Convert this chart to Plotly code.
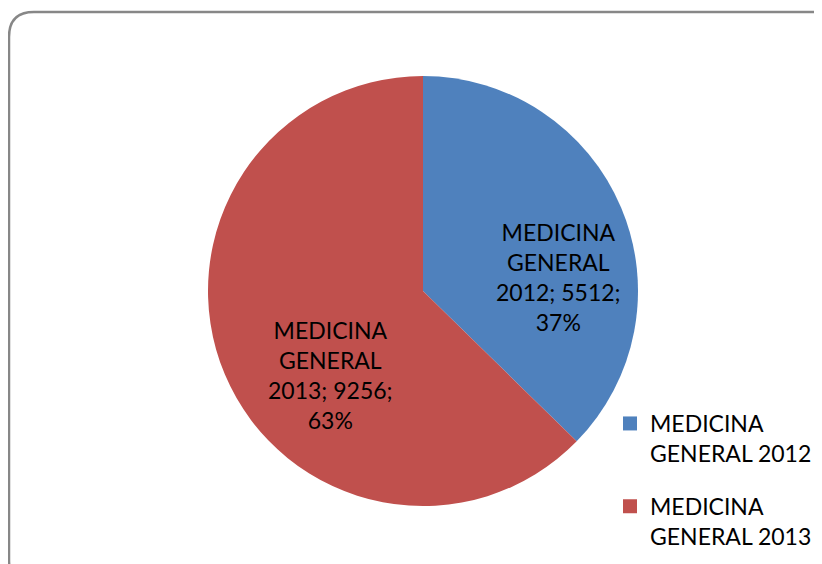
"""Pie chart: medicina general 2012 vs 2013."""
import plotly.graph_objects as go

# data
LABELS = ["MEDICINA GENERAL 2012", "MEDICINA GENERAL 2013"]
LEGEND_NAMES = ["MEDICINA<br>GENERAL 2012", "MEDICINA<br>GENERAL 2013"]
SLICE_TEXT = ["MEDICINA<br>GENERAL<br>2012; 5512;<br>37%", "MEDICINA<br>GENERAL<br>2013; 9256;<br>63%"]
VALUES = [5512, 9256]

BLUE = "#4f81bd"
RED = "#c0504d"
COLORS = [BLUE, RED]
INK = "#000000"
BORDER = "#878787"
FONT = "Lato, 'Open Sans', sans-serif"

# page body has an 8px margin, so the figure is drawn 8px smaller than the window
OFF = 8
W, H = 822 - OFF, 564 - OFF


def px(x):
    return (x - OFF) / W


def py(y):
    return 1 - (y - OFF) / H


fig = go.Figure()
fig.add_trace(go.Pie(
    labels=LABELS, values=VALUES,
    textinfo="none", showlegend=False,
    sort=False, direction="clockwise", rotation=0,
    marker=dict(colors=COLORS, line=dict(width=0)),
    domain=dict(x=[px(208), px(638)], y=[py(506), py(76)]),
    hoverinfo="label+value+percent",
))

# slice labels, placed where the reference puts them
for text, (cx, cy) in zip(SLICE_TEXT, [(558, 277), (330, 375)]):
    fig.add_annotation(x=px(cx), y=py(cy), xref="paper", yref="paper",
                       text=text, showarrow=False, align="center",
                       xanchor="center", yanchor="middle",
                       font=dict(family=FONT, size=23, color=INK))

# legend entries: one dummy trace per slice so the item gap can be set
for name, color in zip(LEGEND_NAMES, COLORS):
    fig.add_trace(go.Scatter(
        x=[None], y=[None], mode="markers", name=name, legendgroup=name,
        marker=dict(symbol="square", size=14, color=color),
    ))

# rounded frame around the chart area
x0, y0, x1, y1, r = px(9), py(12), px(845), py(585), 25
rx, ry = r / W, r / H
frame = (
    f"M {x0 + rx},{y0} L {x1 - rx},{y0} Q {x1},{y0} {x1},{y0 - ry} "
    f"L {x1},{y1 + ry} Q {x1},{y1} {x1 - rx},{y1} "
    f"L {x0 + rx},{y1} Q {x0},{y1} {x0},{y1 + ry} "
    f"L {x0},{y0 - ry} Q {x0},{y0} {x0 + rx},{y0} Z"
)
fig.add_shape(type="path", path=frame, xref="paper", yref="paper",
              line=dict(color=BORDER, width=2.5), layer="below")

fig.update_layout(
    width=W, height=H,
    margin=dict(l=0, r=0, t=0, b=0),
    paper_bgcolor="white", plot_bgcolor="white",
    font=dict(family=FONT, size=23, color=INK),
    xaxis=dict(visible=False), yaxis=dict(visible=False),
    legend=dict(x=px(610), y=py(402), xanchor="left", yanchor="top",
                valign="top", tracegroupgap=20, itemwidth=30,
                font=dict(family=FONT, size=23, color=INK),
                bgcolor="rgba(0,0,0,0)"),
)

fig.write_html("out.html")
